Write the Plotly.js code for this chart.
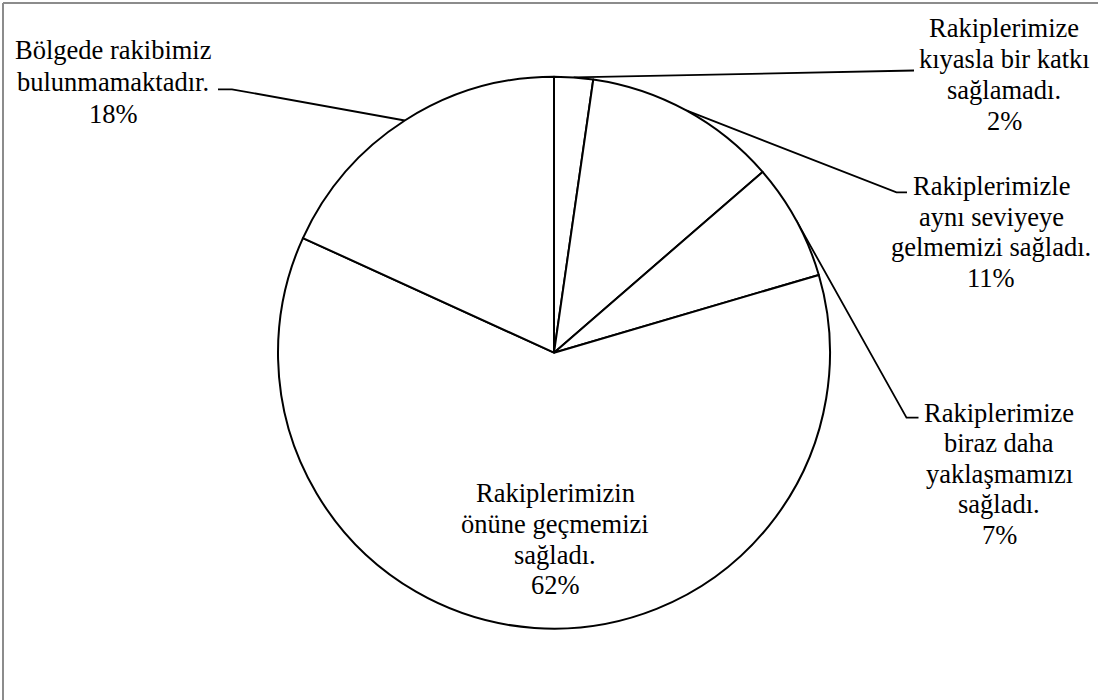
<!DOCTYPE html>
<html>
<head>
<meta charset="utf-8">
<script src="https://cdn.plot.ly/plotly-3.0.1.min.js"></script>
<style>html,body{margin:0;padding:0;background:#fff;}#chart{width:1098px;height:700px;}</style>
</head>
<body>
<div id="chart"></div>
<script>
// ---- data ----
const categories = [
  'Rakiplerimize kıyasla bir katkı sağlamadı.',
  'Rakiplerimizle aynı seviyeye gelmemizi sağladı.',
  'Rakiplerimize biraz daha yaklaşmamızı sağladı.',
  'Rakiplerimizin önüne geçmemizi sağladı.',
  'Bölgede rakibimiz bulunmamaktadır.'
];
const counts = [2, 10, 6, 54, 16];
const percentLabels = ['2%', '11%', '7%', '62%', '18%'];
const labelLines = [
  ['Rakiplerimize', 'kıyasla bir katkı', 'sağlamadı.'],
  ['Rakiplerimizle', 'aynı seviyeye', 'gelmemizi sağladı.'],
  ['Rakiplerimize', 'biraz daha', 'yaklaşmamızı', 'sağladı.'],
  ['Rakiplerimizin', 'önüne geçmemizi', 'sağladı.'],
  ['Bölgede rakibimiz', 'bulunmamaktadır.']
];

// ---- layout / style settings (pixels) ----
const W = 1098, H = 700;
const CX = 554, CY = 352.7, R = 276;
const FONT_FAMILY = '"Liberation Serif", "Times New Roman", Tinos, serif';
const FONT_SIZE = 26.5;
// label block: x centre, y of first line centre, line gap
const labelPos = [
  {x: 1004, y: 27.5, gap: 31},
  {x: 991, y: 186, gap: 30.5},
  {x: 999, y: 412.5, gap: 30.6},
  {x: 555, y: 493, gap: 30.8},
  {x: 113, y: 50, gap: 32}
];
// leader line elbow and end near the label (null = no leader)
const leaderEnds = [
  {elbow: [898, 70.5], end: [914, 70.5]},
  {elbow: [896.5, 192.3], end: [907, 192.3]},
  {elbow: [906.5, 417.7], end: [918.5, 417.7]},
  null,
  {elbow: [232, 89.3], end: [218, 89.3]}
];

const traces = [];
traces.push({
  type: 'pie',
  labels: categories,
  values: counts,
  sort: false,
  direction: 'clockwise',
  rotation: 0,
  textinfo: 'none',
  hoverinfo: 'label+percent',
  showlegend: false,
  marker: {colors: categories.map(() => '#ffffff'), line: {color: '#000', width: 2}},
  domain: {x: [(CX - R) / W, (CX + R) / W], y: [(H - CY - R) / H, (H - CY + R) / H]}
});

// leader lines from slice mid-angle on the rim to the label
const total = counts.reduce((a, b) => a + b, 0);
let cum = 0;
counts.forEach((v, i) => {
  const mid = (cum + v / 2) / total * 2 * Math.PI;
  cum += v;
  const le = leaderEnds[i];
  if (!le) return;
  const px = CX + R * Math.sin(mid), py = CY - R * Math.cos(mid);
  traces.push({
    type: 'scatter', mode: 'lines', xaxis: 'x', yaxis: 'y',
    x: [px, le.elbow[0], le.end[0]],
    y: [py, le.elbow[1], le.end[1]],
    line: {color: '#000', width: 1.8},
    hoverinfo: 'skip', showlegend: false
  });
});

const annotations = [];
labelLines.forEach((lines, i) => {
  const all = lines.concat([percentLabels[i]]);
  all.forEach((t, k) => {
    annotations.push({
      xref: 'x', yref: 'y', x: labelPos[i].x, y: labelPos[i].y + k * labelPos[i].gap,
      text: t, showarrow: false, xanchor: 'center', yanchor: 'middle',
      font: {family: FONT_FAMILY, size: FONT_SIZE, color: '#000'}
    });
  });
});

const layout = {
  width: W, height: H,
  margin: {l: 0, r: 0, t: 0, b: 0},
  paper_bgcolor: '#fff', plot_bgcolor: 'rgba(0,0,0,0)',
  font: {family: FONT_FAMILY, color: '#000'},
  showlegend: false,
  xaxis: {range: [0, W], visible: false, fixedrange: true},
  yaxis: {range: [H, 0], visible: false, fixedrange: true},
  annotations: annotations,
  shapes: [
    {type: 'line', xref: 'x', yref: 'y', x0: 3, y0: 3, x1: W + 10, y1: 3, line: {color: '#8c8c8c', width: 2}},
    {type: 'line', xref: 'x', yref: 'y', x0: 3, y0: 3, x1: 3, y1: H + 10, line: {color: '#8c8c8c', width: 2}}
  ]
};

Plotly.newPlot('chart', traces, layout, {staticPlot: true, displayModeBar: false});
</script>
</body>
</html>
